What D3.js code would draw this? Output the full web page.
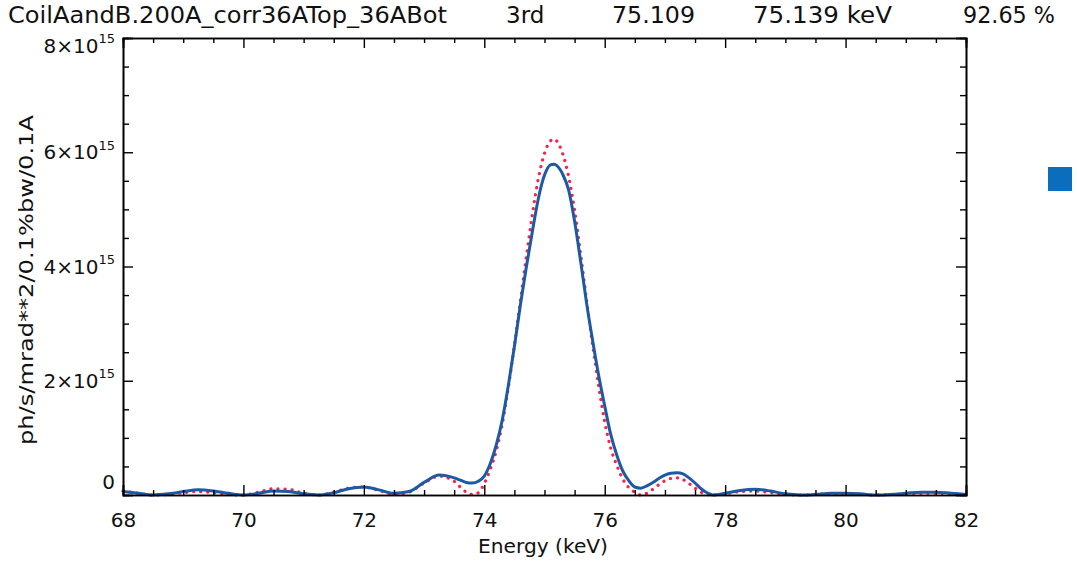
<!DOCTYPE html>
<html>
<head>
<meta charset="utf-8">
<script src="https://cdn.jsdelivr.net/npm/d3@7"></script>
<style>
  html, body { margin: 0; padding: 0; background: #fff; }
  svg text { font-family: 'DejaVu Sans', 'Liberation Sans', sans-serif; fill: #111; }
</style>
</head>
<body>
<svg id="chart"></svg>
<script>
// photon energy grid (keV)
const energy = [
  68.0, 68.25, 68.5, 68.75, 69.0, 69.25, 69.5, 69.75, 70.0, 70.25, 70.5, 70.75,
  71.0, 71.25, 71.5, 71.75, 72.0, 72.25, 72.5, 72.75, 73.0, 73.25, 73.5, 73.6,
  73.7, 73.8, 73.9, 74.0, 74.1, 74.2, 74.3, 74.4, 74.5, 74.6, 74.7, 74.8, 74.9,
  75.0, 75.1, 75.15, 75.2, 75.3, 75.4, 75.5, 75.6, 75.7, 75.8, 75.9, 76.0, 76.1,
  76.2, 76.3, 76.4, 76.5, 76.6, 76.7, 76.8, 76.9, 77.0, 77.1, 77.2, 77.3, 77.4,
  77.5, 77.6, 77.7, 77.8, 78.0, 78.25, 78.5, 78.75, 79.0, 79.25, 79.5, 79.75,
  80.0, 80.25, 80.5, 80.75, 81.0, 81.25, 81.5, 81.75, 82.0
];

// flux, units of 1e15 ph/s/mrad^2/0.1%bw/0.1A -- corrected field (solid blue)
const fluxCorr = [
  0.06, 0.03, 0.00, 0.02, 0.06, 0.09, 0.07, 0.03, 0.00, 0.03, 0.07, 0.06,
  0.02, 0.00, 0.04, 0.11, 0.14, 0.09, 0.03, 0.06, 0.22, 0.35, 0.30, 0.26,
  0.22, 0.21, 0.24, 0.33, 0.55, 0.88, 1.32, 1.92, 2.60, 3.33, 4.00, 4.62, 5.20,
  5.60, 5.78, 5.79, 5.77, 5.62, 5.34, 4.79, 4.09, 3.35, 2.70, 2.09, 1.56, 1.06,
  0.70, 0.42, 0.25, 0.14, 0.12, 0.16, 0.22, 0.29, 0.35, 0.38, 0.39, 0.37, 0.30,
  0.21, 0.11, 0.04, 0.00, 0.03, 0.08, 0.10, 0.07, 0.02, 0.00, 0.01, 0.03,
  0.03, 0.02, 0.00, 0.01, 0.03, 0.05, 0.05, 0.03, 0.01
];

// ideal field (red dotted)
const fluxIdeal = [
  0.07, 0.03, 0.00, 0.01, 0.04, 0.06, 0.04, 0.01, 0.00, 0.05, 0.11, 0.10,
  0.03, 0.00, 0.05, 0.12, 0.14, 0.08, 0.01, 0.05, 0.21, 0.33, 0.24, 0.14,
  0.05, 0.01, 0.04, 0.20, 0.45, 0.78, 1.25, 1.88, 2.62, 3.40, 4.18, 4.92, 5.55,
  5.98, 6.20, 6.23, 6.20, 5.98, 5.58, 4.98, 4.22, 3.40, 2.62, 1.90, 1.28, 0.82,
  0.52, 0.28, 0.13, 0.05, 0.00, 0.03, 0.10, 0.18, 0.25, 0.29, 0.30, 0.27, 0.20,
  0.12, 0.05, 0.01, 0.00, 0.02, 0.06, 0.07, 0.04, 0.01, 0.00, 0.01, 0.02,
  0.02, 0.01, 0.00, 0.01, 0.02, 0.03, 0.03, 0.02, 0.01
];

const xMajor = [68, 70, 72, 74, 76, 78, 80, 82];
const yMajor = [0, 2, 4, 6, 8];
const titleParts = [
  'CoilAandB.200A_corr36ATop_36ABot', '3rd', '75.109', '75.139 keV', '92.65 %'
];

const W = 1078, H = 561;
const margin = { left: 123, right: 112, top: 38, bottom: 66 };
const width = W - margin.left - margin.right;
const height = H - margin.top - margin.bottom;

const svg = d3.select('#chart')
  .attr('width', W)
  .attr('height', H)
  .attr('viewBox', `0 0 ${W} ${H}`);

const x = d3.scaleLinear().domain([68, 82]).range([0, width]);
const y = d3.scaleLinear().domain([0, 8]).range([height, 0]);

svg.append('defs').append('clipPath')
  .attr('id', 'clip')
  .append('rect')
  .attr('x', -2).attr('y', -2)
  .attr('width', width + 4)
  .attr('height', height + 4);

const g = svg.append('g')
  .attr('transform', `translate(${margin.left}, ${margin.top})`);

// curves
const line = d3.line()
  .x((d, i) => x(energy[i]))
  .y(d => y(d))
  .curve(d3.curveMonotoneX);

const curves = g.append('g').attr('clip-path', 'url(#clip)');
curves.append('path')
  .datum(fluxIdeal)
  .attr('d', line)
  .attr('fill', 'none')
  .attr('stroke', '#ff1f45')
  .attr('stroke-width', 3.2)
  .attr('stroke-linecap', 'round')
  .attr('stroke-dasharray', '0.1 7');

curves.append('path')
  .datum(fluxCorr)
  .attr('d', line)
  .attr('fill', 'none')
  .attr('stroke', '#1c5aa6')
  .attr('stroke-width', 3);

// axes, IDL style: ticks pointing inward on all four sides
const xMinor = d3.range(68, 82.01, 0.5).filter(v => !xMajor.includes(v));
const yMinor = d3.range(0, 8.01, 0.5).filter(v => !yMajor.includes(v));

const axis = g.append('g').attr('class', 'axis');
axis.append('g').attr('class', 'axis--x')
  .attr('transform', `translate(0, ${height})`)
  .call(d3.axisBottom(x).tickValues(xMajor).tickSize(-10).tickPadding(18).tickFormat(d3.format('d')));
axis.append('g').attr('class', 'axis--x-minor')
  .attr('transform', `translate(0, ${height})`)
  .call(d3.axisBottom(x).tickValues(xMinor).tickSize(-5).tickFormat(''));
axis.append('g').attr('class', 'axis--x-top')
  .call(d3.axisTop(x).tickValues(xMajor).tickSize(-10).tickFormat(''));
axis.append('g').attr('class', 'axis--x-top-minor')
  .call(d3.axisTop(x).tickValues(xMinor).tickSize(-5).tickFormat(''));

axis.append('g').attr('class', 'axis--y')
  .call(d3.axisLeft(y).tickValues(yMajor).tickSize(-10).tickFormat(''));
axis.append('g').attr('class', 'axis--y-minor')
  .call(d3.axisLeft(y).tickValues(yMinor).tickSize(-6).tickFormat(''));
axis.append('g').attr('class', 'axis--y-right')
  .attr('transform', `translate(${width}, 0)`)
  .call(d3.axisRight(y).tickValues(yMajor).tickSize(-10).tickFormat(''));
axis.append('g').attr('class', 'axis--y-right-minor')
  .attr('transform', `translate(${width}, 0)`)
  .call(d3.axisRight(y).tickValues(yMinor).tickSize(-6).tickFormat(''));

axis.selectAll('.domain').attr('stroke', '#000').attr('stroke-width', 1.6);
axis.selectAll('.tick line').attr('stroke', '#000').attr('stroke-width', 1.4);
axis.selectAll('.axis--x .tick text')
  .attr('font-size', 20)
  .style('font-family', 'DejaVu Sans, sans-serif');

// y tick labels with superscript exponent; end labels nudged inside like IDL
const yLab = g.append('g').attr('class', 'ylabels');
yMajor.forEach(v => {
  let yy = y(v);
  if (v === 0) yy -= 13;
  if (v === 8) yy += 8;
  const t = yLab.append('text')
    .attr('x', -8)
    .attr('y', yy)
    .attr('dy', '0.36em')
    .attr('text-anchor', 'end')
    .attr('font-size', 20);
  if (v === 0) {
    t.text('0');
  } else {
    t.append('tspan').text(`${v}×10`);
    t.append('tspan').attr('font-size', 13).attr('dy', '-0.75em').text('15');
  }
});

// axis titles
svg.append('text')
  .attr('x', 543)
  .attr('y', 553)
  .attr('text-anchor', 'middle')
  .attr('font-size', 19)
  .attr('textLength', 130)
  .attr('lengthAdjust', 'spacingAndGlyphs')
  .text('Energy (keV)');

svg.append('text')
  .attr('transform', 'translate(33, 280) rotate(-90)')
  .attr('text-anchor', 'middle')
  .attr('font-size', 19)
  .attr('textLength', 330)
  .attr('lengthAdjust', 'spacingAndGlyphs')
  .text('ph/s/mrad**2/0.1%bw/0.1A');

// header line; the short "3rd" keeps its natural width
const titleX = [8, 506, 612, 753, 963];
const titleW = [439, null, 83, 139, 92];
svg.selectAll('text.title')
  .data(titleParts)
  .join('text')
  .attr('class', 'title')
  .attr('x', (d, i) => titleX[i])
  .attr('y', 23)
  .attr('font-size', 23)
  .attr('textLength', (d, i) => titleW[i])
  .attr('lengthAdjust', 'spacingAndGlyphs')
  .text(d => d);

// stray legend marker at right
svg.append('rect')
  .attr('x', 1048).attr('y', 167)
  .attr('width', 24).attr('height', 24)
  .attr('fill', '#0a6ebd');
</script>
</body>
</html>
